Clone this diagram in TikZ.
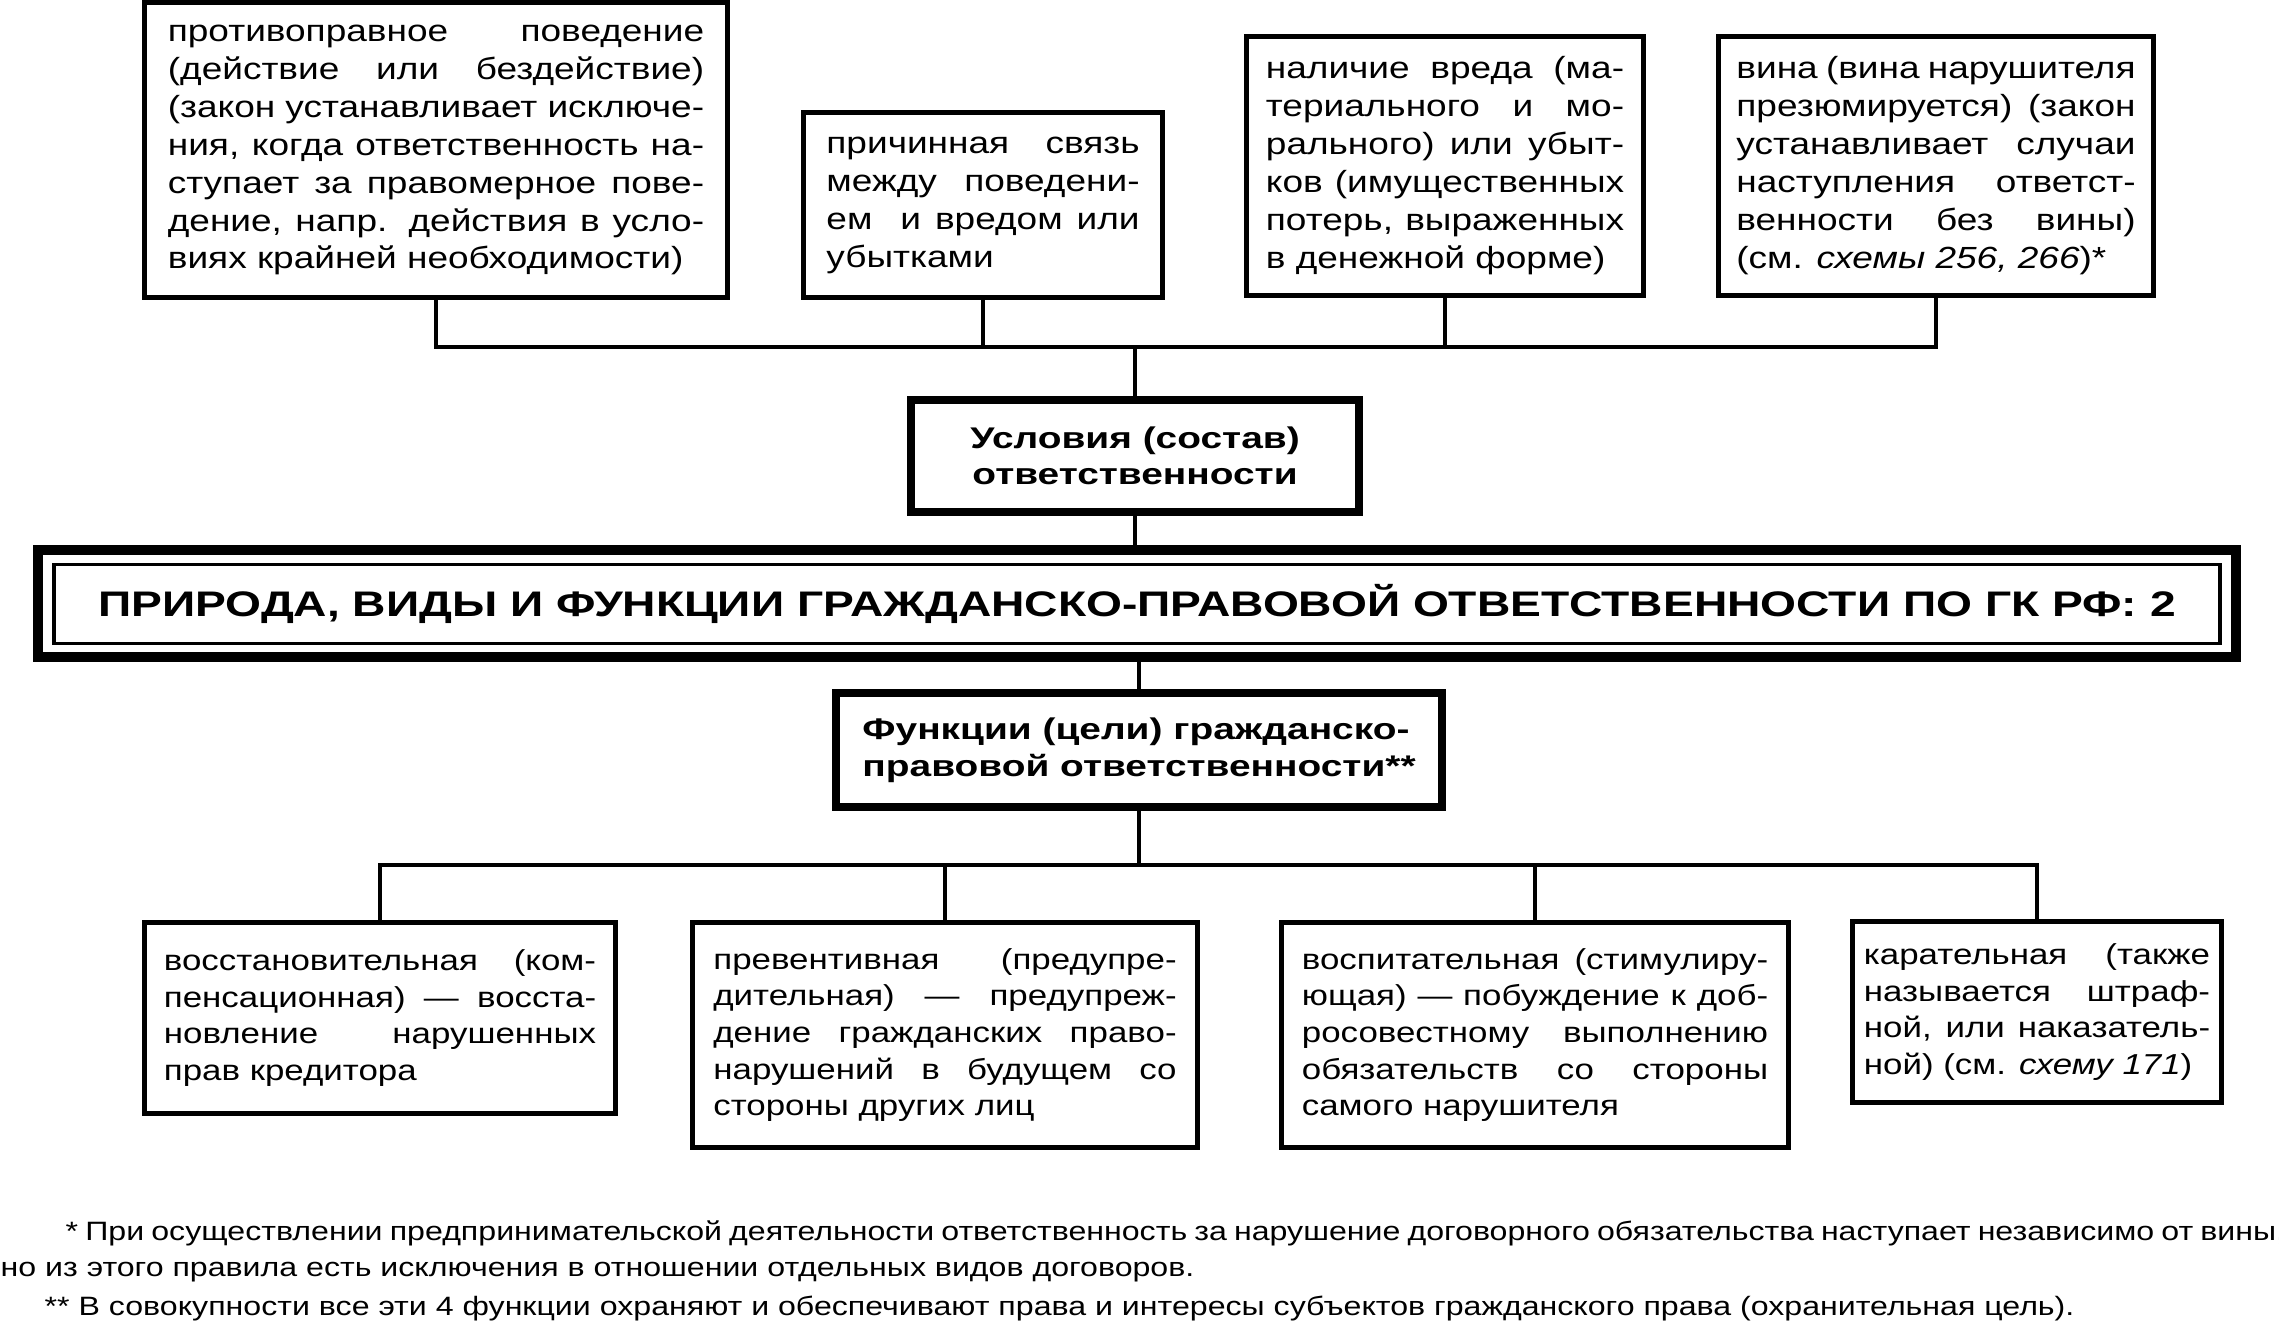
\documentclass[tikz,border=0pt]{standalone}
\usepackage{fontspec}
\setmainfont{Liberation Sans}[FakeStretch=1.21]
\newfontfamily\headfont{Liberation Sans}[FakeStretch=1.3]
\hbadness=10000
\begin{document}
\begin{tikzpicture}[x=0.01cm, y=-0.01cm,
	box/.style={draw, line width=1.4pt, inner sep=0pt, align=justify, font=\fontsize{8.7}{10.8}\selectfont},
	lowbox/.style={box, font=\fontsize{8.2}{10.4}\selectfont},
	headbox/.style={draw, line width=2.4pt, inner sep=0pt, font=\headfont\bfseries\fontsize{8.5}{10.4}\selectfont},
	outerframe/.style={draw, line width=2.85pt, inner sep=0pt},
	titlebox/.style={draw, line width=1.1pt, inner sep=0pt, font=\headfont\bfseries\fontsize{10.1}{12}\selectfont},
	note/.style={inner sep=0pt, anchor=base west, font=\fontsize{7.55}{9.5}\selectfont},
	link/.style={line width=1.2pt}]
\useasboundingbox (0,0) rectangle (2279,1324);

\node[box, minimum width=5.82cm, minimum height=2.94cm, text width=5.36cm] (t1) at (436,150) {противоправное поведение\linebreak (действие или бездействие)\linebreak (закон устанавливает исключе-\linebreak ния, когда ответственность на-\linebreak ступает за правомерное пове-\linebreak дение, напр. действия в усло-\linebreak виях крайней необходимости)};
\node[box, minimum width=3.59cm, minimum height=1.84cm, text width=3.13cm] (t2) at (983,205) {причинная связь\linebreak между поведени-\linebreak ем\ \ и вредом или\linebreak убытками};
\node[box, minimum width=3.96cm, minimum height=2.58cm, text width=3.58cm] (t3) at (1445,166) {наличие вреда (ма-\linebreak териального и мо-\linebreak рального) или убыт-\linebreak ков (имущественных\linebreak потерь, выраженных\linebreak в денежной форме)};
\node[box, minimum width=4.35cm, minimum height=2.58cm, text width=3.99cm] (t4) at (1936,166) {вина (вина нарушителя\linebreak презюмируется) (закон\linebreak устанавливает случаи\linebreak наступления ответст-\linebreak венности без вины)\linebreak (см. \textit{схемы 256, 266})*};

\node[headbox, minimum width=4.48cm, minimum height=1.12cm, align=center] (cond) at (1135,456) {Условия (состав)\\ответственности};

\node[outerframe, minimum width=21.96cm, minimum height=1.07cm] (frame) at (1137,603.5) {};
\node[titlebox, minimum width=21.65cm, minimum height=0.79cm] (title) at (1137,604) {ПРИРОДА, ВИДЫ И ФУНКЦИИ ГРАЖДАНСКО-ПРАВОВОЙ ОТВЕТСТВЕННОСТИ ПО ГК РФ: 2};

\node[headbox, minimum width=6.06cm, minimum height=1.14cm, align=left] (func) at (1139,750) {Функции (цели) гражданско-\\правовой ответственности**};

\node[lowbox, minimum width=4.71cm, minimum height=1.90cm, text width=4.32cm] (b1) at (380,1018) {восстановительная (ком-\linebreak пенсационная) — восста-\linebreak новление нарушенных\linebreak прав кредитора};
\node[lowbox, minimum width=5.05cm, minimum height=2.25cm, text width=4.63cm] (b2) at (945,1035) {превентивная (предупре-\linebreak дительная) — предупреж-\linebreak дение гражданских право-\linebreak нарушений в будущем со\linebreak стороны других лиц};
\node[lowbox, minimum width=5.07cm, minimum height=2.25cm, text width=4.66cm] (b3) at (1535,1035) {воспитательная (стимулиру-\linebreak ющая) — побуждение к доб-\linebreak росовестному выполнению\linebreak обязательств со стороны\linebreak самого нарушителя};
\node[lowbox, minimum width=3.68cm, minimum height=1.81cm, text width=3.46cm] (b4) at (2037,1012) {карательная (также\linebreak называется штраф-\linebreak ной, или наказатель-\linebreak ной) (см. \textit{схему 171})};

\coordinate (tbus) at (1137,347);
\draw[link] (t1.south) |- (tbus) -| (t4.south);
\foreach \n in {t2,t3}
	\draw[link] (\n.south) -- (\n.south |- tbus);
\draw[link] (cond.north) -- (cond.north |- tbus);
\draw[link] (cond.south) -- (cond.south |- frame.north);
\draw[link] (func.north |- frame.south) -- (func.north);

\coordinate (bbus) at (1142,865);
\draw[link] (func.south) -- (func.south |- bbus);
\draw[link] (b1.north) |- (bbus) -| (b4.north);
\foreach \n in {b2,b3}
	\draw[link] (\n.north) -- (\n.north |- bbus);

\node[note] (n1) at (65,1240) {\spaceskip=0.8\fontdimen2\font\relax * При осуществлении предпринимательской деятельности ответственность за нарушение договорного обязательства наступает независимо от вины,};
\node[note] (n2) at (0,1276) {но из этого правила есть исключения в отношении отдельных видов договоров.};
\node[note] (n3) at (44,1315) {** В совокупности все эти 4 функции охраняют и обеспечивают права и интересы субъектов гражданского права (охранительная цель).};

\end{tikzpicture}
\end{document}
